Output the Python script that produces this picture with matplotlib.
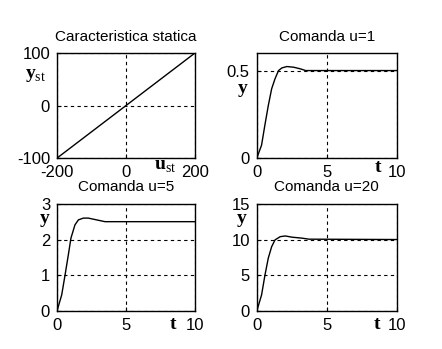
import numpy as np
import matplotlib
matplotlib.use("Agg")
import matplotlib.pyplot as plt

plt.rcParams['font.family'] = ['Liberation Sans', 'DejaVu Sans']
plt.rcParams['axes.unicode_minus'] = False
plt.rcParams['mathtext.fontset'] = 'custom'
plt.rcParams['mathtext.rm'] = 'Liberation Serif'
plt.rcParams['mathtext.bf'] = 'Liberation Serif:bold'

# static characteristic
u_st = [-200, 200]
y_st = [-100, 100]

# step responses
t1 = [0, 0.34, 0.58, 0.82, 1.06, 1.30, 1.55, 1.79, 2.15, 2.63, 3.10, 3.48, 10]
y1 = [0, 0.074, 0.19, 0.30, 0.396, 0.453, 0.50, 0.515, 0.523, 0.519, 0.51, 0.50, 0.50]

t5 = [0, 0.34, 0.58, 0.82, 1.01, 1.30, 1.55, 1.91, 2.27, 2.87, 3.48, 10]
y5 = [0, 0.45, 1.0, 1.57, 2.04, 2.41, 2.55, 2.60, 2.60, 2.55, 2.50, 2.50]

t20 = [0, 0.34, 0.58, 0.82, 1.06, 1.30, 1.67, 2.03, 2.51, 3.24, 3.72, 10]
y20 = [0, 2.24, 5.0, 7.4, 9.0, 9.95, 10.4, 10.5, 10.33, 10.19, 10.05, 10.0]

t_ticks = [0, 5, 10]
t_labels = ["0", "5", "10"]

fig = plt.figure(figsize=(4.42, 3.49), dpi=100)

def setup(ax, title, xlim, ylim, xt, xl, yt, yl):
    ax.set_xlim(xlim)
    ax.set_ylim(ylim)
    ax.set_xticks(xt, xl)
    ax.set_yticks(yt, yl)
    ax.tick_params(direction='in', length=3, labelsize=12, pad=5, width=0.8)
    ax.set_title(title, fontsize=11, pad=9)
    ax.grid(True, color='black', linestyle=(0, (3, 3)), linewidth=0.8)
    for s in ax.spines.values():
        s.set_linewidth(1.0)

ax = fig.add_axes([0.129, 0.547, 0.312, 0.301])
ax.plot(u_st, y_st, color='black', linewidth=1.0)
setup(ax, "Caracteristica statica", (-200, 200), (-100, 100),
      [-200, 0, 200], ["-200", "0", "200"], [-100, 0, 100], ["-100", "0", "100"])
ax.text(-0.235, 0.79, r'$\mathbf{y}_{\mathrm{st}}$', transform=ax.transAxes, fontsize=14, ha='left', va='center')
ax.text(0.70, -0.08, r'$\mathbf{u}_{\mathrm{st}}$', transform=ax.transAxes, fontsize=14, ha='left', va='center')

ax = fig.add_axes([0.581, 0.547, 0.317, 0.301])
ax.plot(t1, y1, color='black', linewidth=1.0)
setup(ax, "Comanda u=1", (0, 10), (0, 0.6), t_ticks, t_labels, [0, 0.5], ["0", "0.5"])
ax.text(-0.10, 0.64, r'$\mathbf{y}$', transform=ax.transAxes, fontsize=14, ha='center', va='center')
ax.text(0.865, -0.09, r'$\mathbf{t}$', transform=ax.transAxes, fontsize=14, ha='center', va='center')

ax = fig.add_axes([0.129, 0.109, 0.312, 0.307])
ax.plot(t5, y5, color='black', linewidth=1.0)
setup(ax, "Comanda u=5", (0, 10), (0, 3), t_ticks, t_labels, [0, 1, 2, 3], ["0", "1", "2", "3"])
ax.text(-0.09, 0.84, r'$\mathbf{y}$', transform=ax.transAxes, fontsize=14, ha='center', va='center')
ax.text(0.84, -0.13, r'$\mathbf{t}$', transform=ax.transAxes, fontsize=14, ha='center', va='center')

ax = fig.add_axes([0.581, 0.109, 0.317, 0.307])
ax.plot(t20, y20, color='black', linewidth=1.0)
setup(ax, "Comanda u=20", (0, 10), (0, 15), t_ticks, t_labels, [0, 5, 10, 15], ["0", "5", "10", "15"])
ax.text(-0.105, 0.84, r'$\mathbf{y}$', transform=ax.transAxes, fontsize=14, ha='center', va='center')
ax.text(0.86, -0.13, r'$\mathbf{t}$', transform=ax.transAxes, fontsize=14, ha='center', va='center')

fig.savefig("out.png", dpi=100)
